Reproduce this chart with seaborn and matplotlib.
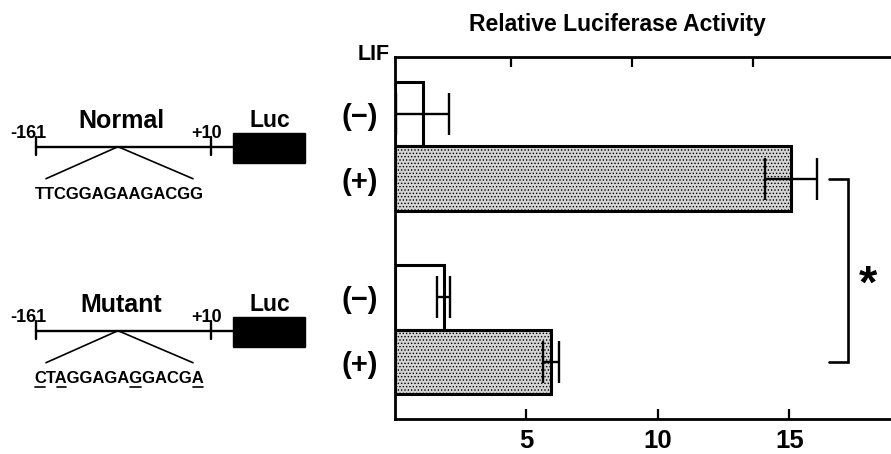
import numpy as np
import pandas as pd
import matplotlib
matplotlib.use('Agg')
import matplotlib.pyplot as plt
import seaborn as sns
from matplotlib.patches import Rectangle

# values
constructs = ['Normal', 'Mutant']
lif_levels = ['(−)', '(+)']
activity = [1.05, 15.05, 1.85, 5.92]   # Normal -, Normal +, Mutant -, Mutant +
err = [1.0, 1.0, 0.24, 0.30]
sequences = ['TTCGGAGAAGACGG', 'CTAGGAGAGGACGA']
mutated = [[], [0, 2, 8, 13]]
xticks = [5, 10, 15]

df = pd.DataFrame({
    'construct': np.repeat(constructs, 2),
    'LIF': lif_levels * 2,
    'activity': activity,
    'err': err,
})

sns.set_style('ticks')
plt.rcParams['font.family'] = ['Liberation Sans', 'DejaVu Sans']
plt.rcParams['font.weight'] = 'bold'
plt.rcParams.update({'text.color': 'black', 'axes.edgecolor': 'black',
                     'xtick.color': 'black', 'ytick.color': 'black',
                     'axes.labelcolor': 'black', 'hatch.linewidth': 0.6})

fig = plt.figure(figsize=(8.91, 4.54), dpi=100)
ax = fig.add_axes([395 / 891, 35 / 454, 496 / 891, 362 / 454])
ax.set_facecolor('none')

sns.barplot(data=df, x='activity', y='construct', hue='LIF', order=constructs,
            hue_order=lif_levels, orient='h', width=0.7, saturation=1,
            palette=['white', '#d4d4d4'], edgecolor='black', linewidth=2.2,
            errorbar=None, legend=False, ax=ax)

# error bars on the bars seaborn placed
bar_containers = list(ax.containers)
centers, labels = [], []
for i, cont in enumerate(bar_containers):
    for j, bar in enumerate(cont):
        yc = bar.get_y() + bar.get_height() / 2
        row = df[(df.construct == constructs[j]) & (df.LIF == lif_levels[i])].iloc[0]
        if lif_levels[i] == '(+)':
            bar.set_hatch('.....')
        ax.errorbar(row['activity'], yc, xerr=row['err'], fmt='none', ecolor='black',
                    elinewidth=1.7, capsize=15, capthick=1.7, zorder=4)
        centers.append(yc)
        labels.append(lif_levels[i])

ax.set_xlim(0, 18.86)
ax.set_ylim(1.489, -0.489)
ax.set_yticks(centers)
ax.set_yticklabels(labels)
ax.set_xticks(xticks)
ax.set_xlabel('')
ax.set_ylabel('')
ax.tick_params(axis='y', length=0, pad=12, labelsize=21)
ax.tick_params(axis='x', direction='in', length=7, width=1.6, labelsize=18.5, pad=7)
for lab in ax.get_xticklabels() + ax.get_yticklabels():
    lab.set_fontweight('bold')
ax.spines['right'].set_visible(False)
for s in ['left', 'bottom', 'top']:
    ax.spines[s].set_linewidth(2)

sec = ax.secondary_xaxis('top')
sec.set_xticks([4.4, 9.0, 13.6])
sec.tick_params(direction='in', length=7, width=1.6, labeltop=False)
sec.spines['top'].set_visible(False)

# significance bracket between the two (+) bars
plus_centers = [c for c, l in zip(centers, labels) if l == '(+)']
y1, y2 = min(plus_centers), max(plus_centers)
ax.plot([16.5, 17.22, 17.22, 16.5], [y1, y1, y2, y2], color='black', lw=1.9,
        clip_on=False, solid_joinstyle='miter')
ax.text(18.0, (y1 + y2) / 2 + 0.085, '*', fontsize=34, ha='center', va='center',
        fontweight='bold')

# schematic of the reporter constructs, in pixel space
dx = fig.add_axes([0, 0, 1, 1], zorder=-1)
dx.set_xlim(0, 891)
dx.set_ylim(454, 0)
dx.axis('off')

fig.text(617 / 891, 1 - 25 / 454, 'Relative Luciferase Activity', ha='center',
         va='center', fontsize=16.5, fontweight='bold')
fig.text(374 / 891, 1 - 54 / 454, 'LIF', ha='center', va='center', fontsize=15.5,
         fontweight='bold')

fig.canvas.draw()
renderer = fig.canvas.get_renderer()
for name, L, seq, marks in zip(constructs, [146.7, 330.7], sequences, mutated):
    dx.plot([36, 233], [L, L], color='black', lw=1.7)
    for tx in [36, 211]:
        dx.plot([tx, tx], [L - 10, L + 8], color='black', lw=1.7)
    dx.add_patch(Rectangle((233, L - 14), 72, 30, color='black'))
    dx.plot([46, 118, 193], [L + 32, L, L + 32], color='black', lw=1.2)
    dx.text(270, L - 20, 'Luc', ha='center', va='baseline', fontsize=16.5, fontweight='bold')
    dx.text(28, L - 9, '-161', ha='center', va='baseline', fontsize=13, fontweight='bold')
    dx.text(207, L - 9, '+10', ha='center', va='baseline', fontsize=13, fontweight='bold')
    dx.text(121, L - 19, name, ha='center', va='baseline', fontsize=18, fontweight='bold')
    t = dx.text(119, L + 52, seq, ha='center', va='baseline', fontsize=12, fontweight='bold')
    bb = t.get_window_extent(renderer)
    x0 = bb.x0
    for k in marks:
        a = dx.text(0, 0, seq[:k], fontsize=12, fontweight='bold')
        b = dx.text(0, 0, seq[:k + 1], fontsize=12, fontweight='bold')
        xa = x0 + (a.get_window_extent(renderer).width if k > 0 else 0)
        xb = x0 + b.get_window_extent(renderer).width
        a.remove()
        b.remove()
        dx.plot([xa + 1, xb - 1], [L + 56, L + 56], color='black', lw=1.2)

fig.savefig('out.png', dpi=100)
